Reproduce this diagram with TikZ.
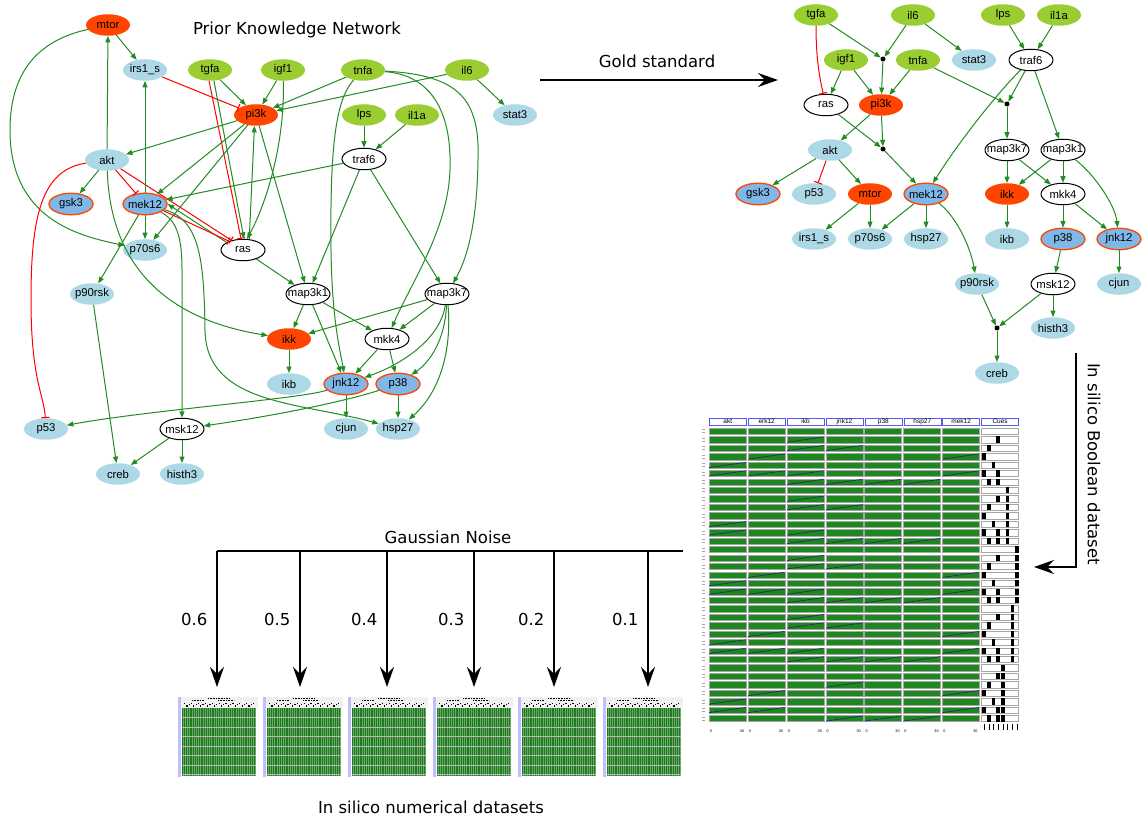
\documentclass[tikz,border=0pt]{standalone}
\usepackage{fontspec}
\setmainfont{Liberation Sans}
\newfontfamily\titlefont{DejaVu Sans}
\usetikzlibrary{arrows.meta,shapes.geometric}
\definecolor{ngreen}{HTML}{9ACD32}
\definecolor{nblue}{HTML}{ADD8E6}
\definecolor{nred}{HTML}{FF4500}
\definecolor{mblue}{HTML}{7FB8E8}
\definecolor{egreen}{HTML}{228B22}
\definecolor{ered}{HTML}{FF0000}
\definecolor{cellgreen}{HTML}{1F871F}
\definecolor{hblue}{HTML}{5A5AF0}
\definecolor{diagc}{HTML}{1C2A6A}
\newcommand\mk[1]{\makebox[0pt]{#1}}
\begin{document}
\begin{tikzpicture}[x=1pt,y=-1pt,
  nd/.style={ellipse, minimum width=44pt, minimum height=21.5pt, inner sep=0pt, font=\fontsize{11.3}{11.3}\selectfont},
  gnode/.style={nd, fill=ngreen},
  bnode/.style={nd, fill=nblue},
  rnode/.style={nd, fill=nred},
  wnode/.style={nd, draw=black, line width=1pt, fill=white},
  mnode/.style={nd, fill=mblue, draw=nred, line width=1.3pt},
  dotnode/.style={circle, fill=black, inner sep=0pt, minimum size=5pt},
  act/.style={draw=egreen, line width=1pt, -{Triangle[length=6.5pt,width=5pt]}},
  inh/.style={draw=ered, line width=1pt, -{Bar[width=8pt,line width=1.1pt]}},
  bigarrow/.style={line width=1.3pt, -{Stealth[length=20pt,width=14pt,inset=7pt]}},
  lbl/.style={font=\titlefont\fontsize{16.5}{16.5}\selectfont},
  cell/.style={fill=cellgreen, draw=gray!70, line width=0.3pt},
  cuecell/.style={fill=white, draw=gray!70, line width=0.3pt},
  diag/.style={draw=diagc, line width=0.6pt},
  tick/.style={font=\fontsize{3.8}{3.8}\selectfont, inner sep=0pt},
]
\useasboundingbox (0,0) rectangle (1146,821);

% ================= Left: Prior Knowledge Network =================
\node[lbl] (title) at (297,30) {Prior Knowledge Network};

\node[rnode] (mtor) at (108,25) {\mk{mtor}};
\node[bnode] (irs1s) at (145,70) {\mk{irs1\_s}};
\node[gnode] (tgfa) at (210,70) {\mk{tgfa}};
\node[gnode] (igf1) at (283,70) {\mk{igf1}};
\node[gnode] (tnfa) at (363,70) {\mk{tnfa}};
\node[gnode] (il6) at (467,70) {\mk{il6}};
\node[bnode] (stat3) at (515,115) {\mk{stat3}};
\node[rnode] (pi3k) at (256,115) {\mk{pi3k}};
\node[gnode] (lps) at (364,115) {\mk{lps}};
\node[gnode] (il1a) at (417,115) {\mk{il1a}};
\node[bnode] (akt) at (107,160) {\mk{akt}};
\node[wnode] (traf6) at (364,159) {\mk{traf6}};
\node[mnode] (gsk3) at (71,204) {\mk{gsk3}};
\node[mnode] (mek12) at (145,204) {\mk{mek12}};
\node[bnode] (p70s6) at (145,250) {\mk{p70s6}};
\node[wnode] (ras) at (243,250) {\mk{ras}};
\node[bnode] (p90rsk) at (92,294) {\mk{p90rsk}};
\node[wnode] (map3k1) at (308,294) {\mk{map3k1}};
\node[wnode] (map3k7) at (447,294) {\mk{map3k7}};
\node[rnode] (ikk) at (289,339) {\mk{ikk}};
\node[wnode] (mkk4) at (387,339) {\mk{mkk4}};
\node[bnode] (ikb) at (289,384) {\mk{ikb}};
\node[mnode] (jnk12) at (346,384) {\mk{jnk12}};
\node[mnode] (p38) at (398,384) {\mk{p38}};
\node[bnode] (p53) at (46,429) {\mk{p53}};
\node[wnode] (msk12) at (182,429) {\mk{msk12}};
\node[bnode] (cjun) at (346,429) {\mk{cjun}};
\node[bnode] (hsp27) at (398,429) {\mk{hsp27}};
\node[bnode] (creb) at (118,474) {\mk{creb}};
\node[bnode] (histh3) at (182,474) {\mk{histh3}};

\draw[act] (mtor) -- (irs1s);
\draw[act] (mtor) .. controls (40,40) and (10,70) .. (10,130) .. controls (10,220) and (80,236) .. (p70s6);
\draw[act] (akt) -- (mtor);
\draw[act] (akt) -- (gsk3);
\draw[inh] (akt) -- (mek12);
\draw[inh] (akt) -- (ras.140);
\draw[inh] (akt) .. controls (40,170) and (31,220) .. (31,300) .. controls (31,380) and (44,395) .. (p53);
\draw[act] (akt) .. controls (110,260) and (160,318) .. (ikk);
\draw[inh] (irs1s) -- (pi3k);
\draw[act] (mek12) -- (irs1s);
\draw[act] (tgfa) -- (pi3k);
\draw[inh] (tgfa.265) -- (ras.100);
\draw[act] (tgfa.290) -- (ras.85);
\draw[act] (igf1) -- (pi3k);
\draw[act] (igf1) .. controls (285,140) and (268,200) .. (ras.70);
\draw[act] (tnfa) -- (pi3k);
\draw[act] (tnfa) .. controls (335,100) and (330,150) .. (331,250) .. controls (332,320) and (340,350) .. (jnk12);
\draw[act] (tnfa) .. controls (430,75) and (452,110) .. (450,170) .. controls (448,230) and (410,285) .. (mkk4);
\draw[act] (tnfa) .. controls (460,75) and (480,100) .. (478,160) .. controls (477,230) and (465,262) .. (map3k7);
\draw[act] (il6) -- (pi3k);
\draw[act] (il6) -- (stat3);
\draw[act] (lps) -- (traf6);
\draw[act] (il1a) -- (traf6);
\draw[act] (traf6) -- (mek12);
\draw[act] (traf6) -- (map3k1);
\draw[act] (traf6) -- (map3k7);
\draw[act] (pi3k) -- (akt);
\draw[act] (pi3k) -- (mek12);
\draw[act] (pi3k) -- (p70s6);
\draw[act] (pi3k) -- (map3k1);
\draw[act] (ras.60) -- (pi3k.262);
\draw[act] (ras.155) -- (mek12.0);
\draw[inh] (mek12.340) -- (ras.148);
\draw[act] (ras) -- (map3k1);
\draw[act] (map3k1) -- (ikk);
\draw[act] (map3k1) -- (jnk12);
\draw[act] (map3k1) -- (mkk4);
\draw[act] (map3k7) -- (ikk);
\draw[act] (map3k7) -- (mkk4);
\draw[act] (map3k7) .. controls (440,340) and (400,365) .. (jnk12);
\draw[act] (map3k7) .. controls (445,340) and (430,362) .. (p38);
\draw[act] (map3k7) .. controls (452,350) and (440,392) .. (hsp27);
\draw[act] (mkk4) -- (jnk12);
\draw[act] (mkk4) -- (p38);
\draw[act] (ikk) -- (ikb);
\draw[act] (jnk12) -- (cjun);
\draw[act] (p38) -- (hsp27);
\draw[act] (jnk12) .. controls (300,399) and (150,410) .. (p53);
\draw[act] (p38) .. controls (350,400) and (280,415) .. (msk12);
\draw[act] (mek12) -- (p90rsk);
\draw[act] (mek12) -- (p70s6);
\draw[act] (mek12) .. controls (176,220) and (182,235) .. (182,270) -- (msk12);
\draw[act] (mek12) .. controls (200,220) and (204,260) .. (205,330) .. controls (206,405) and (300,402) .. (hsp27);
\draw[act] (p90rsk) -- (creb);
\draw[act] (msk12) -- (creb);
\draw[act] (msk12) -- (histh3);

% ================= Gold standard arrow =================
\coordinate (gsA) at (540,80);
\coordinate (gsB) at (778,80);
\draw[bigarrow] (gsA) -- (gsB);
\node[lbl] (gslbl) at (657,61) {Gold standard};

% ================= Right: gold standard network =================
\node[gnode] (Rtgfa) at (816,15) {\mk{tgfa}};
\node[gnode] (Ril6) at (913,15) {\mk{il6}};
\node[gnode] (Rlps) at (1003,15) {\mk{lps}};
\node[gnode] (Ril1a) at (1059,15) {\mk{il1a}};
\node[gnode] (Rigf1) at (846,60) {\mk{igf1}};
\node[dotnode] (Rd1) at (883,59) {};
\node[gnode] (Rtnfa) at (918,60) {\mk{tnfa}};
\node[bnode] (Rstat3) at (974,60) {\mk{stat3}};
\node[wnode] (Rtraf6) at (1031,60) {\mk{traf6}};
\node[wnode] (Rras) at (826,105) {\mk{ras}};
\node[rnode] (Rpi3k) at (881,105) {\mk{pi3k}};
\node[dotnode] (Rd2) at (1007,104) {};
\node[bnode] (Rakt) at (830,150) {\mk{akt}};
\node[dotnode] (Rd3) at (883,149) {};
\node[wnode] (Rmap3k7) at (1007,150) {\mk{map3k7}};
\node[wnode] (Rmap3k1) at (1063,150) {\mk{map3k1}};
\node[mnode] (Rgsk3) at (758,194) {\mk{gsk3}};
\node[bnode] (Rp53) at (814,194) {\mk{p53}};
\node[rnode] (Rmtor) at (870,194) {\mk{mtor}};
\node[mnode] (Rmek12) at (926,194) {\mk{mek12}};
\node[rnode] (Rikk) at (1007,194) {\mk{ikk}};
\node[wnode] (Rmkk4) at (1063,194) {\mk{mkk4}};
\node[bnode] (Rirs1s) at (814,239) {\mk{irs1\_s}};
\node[bnode] (Rp70s6) at (870,239) {\mk{p70s6}};
\node[bnode] (Rhsp27) at (926,239) {\mk{hsp27}};
\node[bnode] (Rikb) at (1007,239) {\mk{ikb}};
\node[mnode] (Rp38) at (1063,239) {\mk{p38}};
\node[mnode] (Rjnk12) at (1119,239) {\mk{jnk12}};
\node[bnode] (Rp90rsk) at (977,284) {\mk{p90rsk}};
\node[wnode] (Rmsk12) at (1053,284) {\mk{msk12}};
\node[bnode] (Rcjun) at (1119,284) {\mk{cjun}};
\node[dotnode] (Rd4) at (997,328) {};
\node[bnode] (Rhisth3) at (1053,328) {\mk{histh3}};
\node[bnode] (Rcreb) at (997,373) {\mk{creb}};

\draw[inh] (Rtgfa) .. controls (816,60) and (820,80) .. (Rras);
\draw[act] (Rtgfa) -- (Rd1);
\draw[act] (Ril6) -- (Rd1);
\draw[act] (Rd1) -- (Rpi3k);
\draw[act] (Rigf1) -- (Rras);
\draw[act] (Rigf1) -- (Rpi3k);
\draw[act] (Rtnfa) -- (Rpi3k);
\draw[act] (Ril6) -- (Rstat3);
\draw[act] (Rlps) -- (Rtraf6);
\draw[act] (Ril1a) -- (Rtraf6);
\draw[act] (Rtnfa) -- (Rd2);
\draw[act] (Rtraf6) -- (Rd2);
\draw[act] (Rd2) -- (Rmap3k7);
\draw[act] (Rtraf6) .. controls (1000,90) and (960,140) .. (Rmek12);
\draw[act] (Rtraf6) -- (Rmap3k1);
\draw[act] (Rpi3k) -- (Rakt);
\draw[act] (Rpi3k) -- (Rd3);
\draw[act] (Rras) -- (Rd3);
\draw[act] (Rd3) -- (Rmek12);
\draw[act] (Rakt) -- (Rgsk3);
\draw[inh] (Rakt) -- (Rp53);
\draw[act] (Rakt) -- (Rmtor);
\draw[act] (Rmtor) -- (Rirs1s);
\draw[act] (Rmtor) -- (Rp70s6);
\draw[act] (Rmek12) -- (Rp70s6);
\draw[act] (Rmek12) -- (Rhsp27);
\draw[act] (Rmek12) .. controls (955,215) and (970,245) .. (Rp90rsk);
\draw[act] (Rmap3k7) -- (Rikk);
\draw[act] (Rmap3k7) -- (Rmkk4);
\draw[act] (Rmap3k1) -- (Rikk);
\draw[act] (Rmap3k1) -- (Rmkk4);
\draw[act] (Rmap3k1) .. controls (1095,175) and (1115,205) .. (Rjnk12);
\draw[act] (Rikk) -- (Rikb);
\draw[act] (Rmkk4) -- (Rp38);
\draw[act] (Rmkk4) -- (Rjnk12);
\draw[act] (Rjnk12) -- (Rcjun);
\draw[act] (Rp38) -- (Rmsk12);
\draw[act] (Rmsk12) -- (Rhisth3);
\draw[act] (Rmsk12) -- (Rd4);
\draw[act] (Rp90rsk) -- (Rd4);
\draw[act] (Rd4) -- (Rcreb);

% ================= Boolean dataset arrow =================
\coordinate (bdA) at (1076,353);
\coordinate (bdB) at (1076,567);
\coordinate (bdC) at (1034,567);
\draw[bigarrow] (bdA) -- (bdB) -- (bdC);
\node[lbl, rotate=-90] (bdlbl) at (1094,464) {In silico Boolean dataset};

% ================= Boolean dataset matrix =================
\foreach \n [count=\i from 0] in {akt,erk12,ikb,jnk12,p38,hsp27,mek12,Cues} {
  \node[draw=hblue, fill=white, line width=0.6pt, minimum width=37pt, minimum height=6.5pt, inner sep=0pt,
        font=\fontsize{6.5}{6.5}\selectfont, anchor=north west] (hd\i) at (709+38.9*\i,418) {\n};
}
\foreach \r in {0,...,34} {
  \pgfmathsetmacro\yy{428+8.45*\r}
  \foreach \c in {0,...,6} { \draw[cell] (709+38.9*\c,\yy) rectangle ++(37,6.3); }
  \draw[cuecell] (981.3,\yy) rectangle ++(37,6.3);
  \draw[gray!70, line width=0.4pt] (702,\yy+1.5) -- ++(3,0) (702,\yy+4.5) -- ++(3,0);
}
\foreach \r/\c in {1/2,2/2,2/3,3/1,3/6,4/0,5/0,5/1,5/2,5/6,6/2,6/3,6/4,6/5,8/2,9/2,9/3,11/0,12/0,12/2,13/2,13/3,13/4,13/5,15/2,16/2,16/3,17/1,17/6,18/0,19/0,19/1,19/2,19/6,20/2,20/3,20/4,20/5,22/2,23/2,23/3,24/1,24/6,25/0,26/0,26/1,26/2,26/6,27/2,27/3,27/4,27/5,30/3,31/1,31/6,32/0,33/0,33/1,33/6,34/3,34/4,34/5} {
  \draw[diag] (709+38.9*\c,428+8.45*\r+5.8) -- ++(37,-5.3);
}
\foreach \g in {0,...,4} {
  \foreach \k/\p in {1/3,2/1,3/0,4/2,5/0,5/3,6/1,6/3} {
    \fill[black] (982.3+\p*4.7,428+8.45*7*\g+8.45*\k) rectangle ++(3.6,6.3);
  }
}
\foreach \g/\s in {1/5,2/7,3/6,4/4} {
  \foreach \k in {0,...,6} {
    \fill[black] (982.3+\s*4.7,428+8.45*7*\g+8.45*\k) rectangle ++(3.6,6.3);
  }
}
\foreach \c in {0,...,6} {
  \node[tick] at (711+38.9*\c,731) {0};
  \node[tick] at (742+38.9*\c,731) {30};
}
\foreach \p in {0,...,7} {
  \draw[black, line width=0.3pt] (984.1+\p*4.7,724) -- ++(0,6);
}

% ================= Gaussian noise =================
\coordinate (gnR) at (683,551);
\coordinate (gnL) at (217,551);
\draw[line width=1.3pt] (gnR) -- (gnL);
\node[lbl] (gnlbl) at (448,537) {Gaussian Noise};
\foreach \x/\v in {217/0.6,300/0.5,387/0.4,474/0.3,554/0.2,648/0.1} {
  \coordinate (t\x) at (\x,551);
  \coordinate (b\x) at (\x,687);
  \draw[bigarrow] (t\x) -- (b\x);
  \node[lbl, anchor=east] at (\x-6,619) {\v};
}

% ================= numerical datasets =================
\foreach \x in {178,263,348,433,518,603} {
  \fill[gray!12] (\x,697) rectangle ++(80,11);
  \fill[blue!25] (\x,697) rectangle ++(3,80);
  \fill[cellgreen!90!black] (\x+4,708) rectangle ++(74,68);
  \foreach \i in {0,...,33} { \draw[white, opacity=0.35, line width=0.5pt] (\x+5+\i*2.2,708) -- ++(0,68); }
  \foreach \j in {1,...,7} { \draw[gray!55, line width=0.6pt] (\x+4,708+\j*9.5) -- ++(74,0); }
  \draw[black, line width=0.4pt, dash pattern=on 1pt off 0.6pt] (\x+30,698.5) -- ++(22,0);
  \draw[black, line width=0.4pt, dash pattern=on 1pt off 0.6pt] (\x+14,700.5) -- ++(12,0) (\x+40,700.5) -- ++(16,0);
  \foreach \k in {0,...,30} {
    \pgfmathsetmacro\dy{mod(\k*5,3)*1.4}
    \fill[black] (\x+6+\k*2.3,702.5+\dy) rectangle ++(1.2,1.2);
  }
}
\node[lbl] (numlbl) at (431,807) {In silico numerical datasets};
\end{tikzpicture}
\end{document}
